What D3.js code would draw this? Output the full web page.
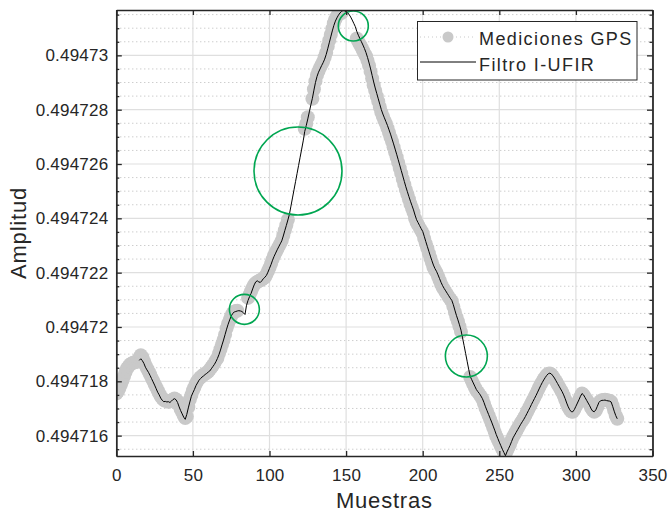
<!DOCTYPE html>
<html>
<head>
<meta charset="utf-8">
<script src="https://cdn.jsdelivr.net/npm/d3@7"></script>
<style>
  body { margin: 0; background: #fff; }
  svg { display: block; }
  text { font-family: "Liberation Sans", Arial, Helvetica, sans-serif; fill: #262626; }
</style>
</head>
<body>
<svg id="chart" width="668" height="515"></svg>
<script>
// GPS amplitude measurements, one per sample starting at sample gpsStart (null = no fix)
const gpsStart = 0;
const gpsValues = [
  0.49471755,0.49471762,0.49471774,0.49471788,0.49471802,0.49471818,0.49471834,0.49471847,0.49471855,0.49471862,
  0.49471866,0.49471868,0.49471870,0.49471871,0.49471876,0.49471886,0.49471896,0.49471888,0.49471874,0.49471860,
  0.49471848,0.49471837,0.49471826,0.49471813,0.49471802,0.49471790,0.49471779,0.49471767,0.49471755,0.49471745,
  0.49471737,0.49471731,0.49471728,0.49471727,0.49471725,0.49471726,0.49471729,0.49471733,0.49471737,0.49471733,
  0.49471726,0.49471712,0.49471698,0.49471687,0.49471674,0.49471665,0.49471670,0.49471705,0.49471733,0.49471750,
  0.49471766,0.49471778,0.49471792,0.49471802,0.49471809,0.49471815,0.49471820,0.49471824,0.49471828,0.49471831,
  0.49471836,0.49471843,0.49471851,0.49471858,0.49471867,0.49471877,0.49471886,0.49471902,0.49471918,0.49471935,
  0.49471952,0.49471972,0.49471995,0.49472012,0.49472026,0.49472040,0.49472051,0.49472056,0.49472059,0.49472060,
  null,null,null,null,null,null,0.49472107,0.49472119,0.49472132,0.49472145,
  0.49472156,0.49472162,0.49472166,0.49472169,0.49472172,0.49472175,0.49472179,0.49472183,0.49472193,0.49472206,
  0.49472218,0.49472233,0.49472249,0.49472263,0.49472274,0.49472285,0.49472296,0.49472307,0.49472318,0.49472337,
  0.49472356,0.49472375,0.49472395,null,null,null,null,null,null,null,
  null,null,null,0.49472730,0.49472748,0.49472772,null,null,0.49472840,0.49472875,
  0.49472905,0.49472928,0.49472942,0.49472955,0.49472966,0.49472977,0.49472993,0.49473010,0.49473033,0.49473055,
  0.49473076,0.49473098,0.49473118,0.49473133,0.49473144,0.49473152,0.49473158,0.49473156,null,null,
  null,null,null,null,null,null,null,0.49473062,0.49473050,0.49473040,
  0.49473030,0.49473018,0.49473007,0.49472997,0.49472980,0.49472962,0.49472940,0.49472915,0.49472890,0.49472870,
  0.49472850,0.49472830,0.49472810,0.49472790,0.49472775,0.49472760,0.49472748,0.49472732,0.49472715,0.49472698,
  0.49472682,0.49472662,0.49472643,0.49472625,0.49472605,0.49472585,0.49472565,0.49472545,0.49472525,0.49472505,
  0.49472488,0.49472470,0.49472453,0.49472438,0.49472422,0.49472400,0.49472385,0.49472375,0.49472365,0.49472355,
  0.49472345,0.49472325,0.49472307,0.49472290,0.49472272,0.49472254,0.49472237,0.49472220,0.49472210,0.49472200,
  0.49472186,0.49472172,0.49472158,0.49472146,0.49472137,0.49472128,0.49472119,0.49472110,0.49472102,0.49472095,
  0.49472075,0.49472055,0.49472036,0.49472020,0.49472002,0.49471982,null,null,null,null,
  null,0.49471816,0.49471802,0.49471790,0.49471778,0.49471767,0.49471760,0.49471752,0.49471744,0.49471734,
  0.49471718,0.49471702,0.49471688,0.49471674,0.49471660,0.49471645,0.49471630,0.49471614,0.49471598,0.49471586,
  0.49471574,0.49471562,0.49471550,0.49471540,0.49471532,0.49471544,0.49471556,0.49471568,0.49471584,0.49471596,
  0.49471606,0.49471616,0.49471626,0.49471637,0.49471647,0.49471655,0.49471664,0.49471674,0.49471686,0.49471697,
  0.49471708,0.49471720,0.49471731,0.49471742,0.49471753,0.49471765,0.49471777,0.49471788,0.49471798,0.49471808,
  0.49471816,0.49471823,0.49471828,0.49471829,0.49471825,0.49471818,0.49471809,0.49471800,0.49471790,0.49471780,
  0.49471770,0.49471760,0.49471748,0.49471733,0.49471718,0.49471705,0.49471695,0.49471689,0.49471688,0.49471696,
  0.49471708,0.49471719,0.49471731,0.49471744,0.49471755,0.49471750,0.49471741,0.49471732,0.49471724,0.49471714,
  0.49471702,0.49471693,0.49471688,0.49471692,0.49471705,0.49471720,0.49471727,0.49471730,0.49471731,0.49471732,
  0.49471730,0.49471729,0.49471728,0.49471725,0.49471710,0.49471692,0.49471674,0.49471662
];

// I-UFIR filter output, one per sample starting at sample filterStart
const filterStart = 15;
const filterValues = [
  0.49471877,0.49471883,0.49471876,0.49471866,0.49471852,
  0.49471842,0.49471833,0.49471822,0.49471810,0.49471798,0.49471786,0.49471773,0.49471760,0.49471750,0.49471738,
  0.49471730,0.49471725,0.49471726,0.49471724,0.49471725,0.49471722,0.49471727,0.49471733,0.49471736,0.49471732,
  0.49471722,0.49471706,0.49471692,0.49471680,0.49471668,0.49471660,0.49471678,0.49471702,0.49471724,0.49471745,
  0.49471758,0.49471770,0.49471784,0.49471794,0.49471804,0.49471810,0.49471816,0.49471820,0.49471825,0.49471829,
  0.49471834,0.49471838,0.49471846,0.49471854,0.49471862,0.49471872,0.49471884,0.49471898,0.49471915,0.49471934,
  0.49471952,0.49471972,0.49471992,0.49472010,0.49472026,0.49472040,0.49472050,0.49472055,0.49472057,0.49472059,
  0.49472060,0.49472059,0.49472057,0.49472052,0.49472046,0.49472080,0.49472098,0.49472112,0.49472124,0.49472140,
  0.49472155,0.49472166,0.49472170,0.49472166,0.49472164,0.49472170,0.49472178,0.49472183,0.49472190,0.49472202,
  0.49472216,0.49472230,0.49472246,0.49472260,0.49472272,0.49472284,0.49472295,0.49472306,0.49472317,0.49472335,
  0.49472355,0.49472374,0.49472394,0.49472415,0.49472445,0.49472475,0.49472505,0.49472535,0.49472565,0.49472595,
  0.49472625,0.49472655,0.49472685,0.49472720,0.49472742,0.49472766,0.49472792,0.49472818,0.49472842,0.49472872,
  0.49472900,0.49472922,0.49472938,0.49472950,0.49472962,0.49472973,0.49472986,0.49473003,0.49473024,0.49473046,
  0.49473068,0.49473090,0.49473110,0.49473126,0.49473138,0.49473148,0.49473156,0.49473162,0.49473165,0.49473164,
  0.49473161,0.49473157,0.49473150,0.49473141,0.49473130,0.49473118,0.49473106,0.49473088,0.49473074,0.49473062,
  0.49473050,0.49473038,0.49473025,0.49473010,0.49472992,0.49472972,0.49472950,0.49472926,0.49472902,0.49472880,
  0.49472860,0.49472840,0.49472820,0.49472800,0.49472784,0.49472770,0.49472756,0.49472742,0.49472726,0.49472710,
  0.49472692,0.49472674,0.49472655,0.49472636,0.49472616,0.49472596,0.49472576,0.49472556,0.49472536,0.49472516,
  0.49472498,0.49472480,0.49472463,0.49472447,0.49472431,0.49472412,0.49472395,0.49472384,0.49472373,0.49472362,
  0.49472352,0.49472334,0.49472315,0.49472297,0.49472279,0.49472261,0.49472244,0.49472228,0.49472215,0.49472205,
  0.49472192,0.49472178,0.49472164,0.49472152,0.49472142,0.49472133,0.49472124,0.49472115,0.49472106,0.49472098,
  0.49472082,0.49472062,0.49472043,0.49472026,0.49472008,0.49471988,0.49471960,0.49471932,0.49471903,0.49471874,
  0.49471845,0.49471818,0.49471806,0.49471794,0.49471782,0.49471770,0.49471762,0.49471755,0.49471746,0.49471736,
  0.49471722,0.49471706,0.49471692,0.49471678,0.49471664,0.49471650,0.49471635,0.49471620,0.49471604,0.49471590,
  0.49471576,0.49471563,0.49471550,0.49471538,0.49471526,0.49471540,0.49471552,0.49471564,0.49471578,0.49471592,
  0.49471602,0.49471612,0.49471622,0.49471632,0.49471642,0.49471651,0.49471660,0.49471670,0.49471681,0.49471692,
  0.49471703,0.49471715,0.49471726,0.49471737,0.49471748,0.49471760,0.49471772,0.49471784,0.49471795,0.49471805,
  0.49471814,0.49471822,0.49471828,0.49471830,0.49471827,0.49471820,0.49471812,0.49471802,0.49471792,0.49471782,
  0.49471772,0.49471762,0.49471750,0.49471736,0.49471720,0.49471706,0.49471695,0.49471688,0.49471688,0.49471696,
  0.49471708,0.49471720,0.49471732,0.49471745,0.49471755,0.49471750,0.49471740,0.49471730,0.49471720,0.49471710,
  0.49471698,0.49471690,0.49471688,0.49471695,0.49471708,0.49471722,0.49471728,0.49471730,0.49471730,0.49471731,
  0.49471729,0.49471728,0.49471727,0.49471724,0.49471708,0.49471690,0.49471674,0.49471662
];

const seriesNames = ["Mediciones GPS", "Filtro I-UFIR"];
const xLabel = "Muestras";
const yLabel = "Amplitud";

const xDomain = [0, 350];
const yDomain = [0.49471525, 0.49473167];
const xTicks = [0, 50, 100, 150, 200, 250, 300, 350];
const xTickLabels = ["0", "50", "100", "150", "200", "250", "300", "350"];
const yTicks = [0.494716, 0.494718, 0.49472, 0.494722, 0.494724, 0.494726, 0.494728, 0.49473];
const yTickLabels = ["0.494716", "0.494718", "0.49472", "0.494722", "0.494724", "0.494726", "0.494728", "0.49473"];
const yMinorTicks = [0.4947155, 0.4947165, 0.494717, 0.4947175, 0.4947185, 0.494719, 0.4947195,
                     0.4947205, 0.494721, 0.4947215, 0.4947225, 0.494723, 0.4947235, 0.4947245,
                     0.494725, 0.4947255, 0.4947265, 0.494727, 0.4947275, 0.4947285, 0.494729,
                     0.4947295, 0.4947305, 0.494731, 0.4947315];

// Highlighted regions: [sample, amplitude] at each ring's centre
const ringCenters = [[154.7, 0.49473108], [118.6, 0.49472574], [83.6, 0.49472065], [228.5, 0.49471893]];

// ---- drawing ----
const plot = { left: 116.3, right: 652.5, top: 10, bottom: 456 };
const ringRadius = [15, 44, 15, 21];
const axisColor = "#262626";

const svg = d3.select("#chart");
const x = d3.scaleLinear().domain(xDomain).range([plot.left, plot.right]);
const y = d3.scaleLinear().domain(yDomain).range([plot.bottom, plot.top]);

svg.append("defs").append("clipPath").attr("id", "plotClip")
  .append("rect")
  .attr("x", plot.left).attr("y", plot.top)
  .attr("width", plot.right - plot.left).attr("height", plot.bottom - plot.top);

// grid
const grid = svg.append("g");
grid.selectAll(".minor").data(yMinorTicks).join("line")
  .attr("x1", plot.left).attr("x2", plot.right)
  .attr("y1", d => y(d)).attr("y2", d => y(d))
  .attr("stroke", "#b8b8b8").attr("stroke-width", 1).attr("stroke-dasharray", "1,3");
grid.selectAll(".hmaj").data(yTicks).join("line")
  .attr("x1", plot.left).attr("x2", plot.right)
  .attr("y1", d => y(d)).attr("y2", d => y(d))
  .attr("stroke", "#dfdfdf").attr("stroke-width", 1.2);
grid.selectAll(".vmaj").data(xTicks).join("line")
  .attr("y1", plot.top).attr("y2", plot.bottom)
  .attr("x1", d => x(d)).attr("x2", d => x(d))
  .attr("stroke", "#dfdfdf").attr("stroke-width", 1.2);

const dataLayer = svg.append("g").attr("clip-path", "url(#plotClip)");

const gpsPoints = gpsValues.map((v, i) => ({ s: gpsStart + i, v }));
const filterPoints = filterValues.map((v, i) => ({ s: filterStart + i, v }));

const gpsColor = "#c9c9c9";

dataLayer.append("path")
  .datum(gpsPoints)
  .attr("fill", "none").attr("stroke", gpsColor).attr("stroke-width", 1)
  .attr("stroke-dasharray", "1,3")
  .attr("d", d3.line().defined(d => d.v != null).x(d => x(d.s)).y(d => y(d.v)));

dataLayer.selectAll(".gps").data(gpsPoints.filter(d => d.v != null)).join("circle")
  .attr("cx", d => x(d.s)).attr("cy", d => y(d.v)).attr("r", 7)
  .attr("fill", gpsColor);

dataLayer.append("path")
  .datum(filterPoints)
  .attr("fill", "none").attr("stroke", "#000").attr("stroke-width", 1)
  .attr("stroke-linejoin", "round")
  .attr("d", d3.line().x(d => x(d.s)).y(d => y(d.v)));

// highlight rings
svg.append("g").selectAll("circle").data(ringCenters).join("circle")
  .attr("cx", d => x(d[0])).attr("cy", d => y(d[1]))
  .attr("r", (d, i) => ringRadius[i])
  .attr("fill", "none").attr("stroke", "#00a651").attr("stroke-width", 1.6);

// axes
const tickFont = g => g.selectAll("text")
  .attr("font-size", 17).attr("letter-spacing", "0.2px")
  .attr("fill", axisColor).style("font-family", '"Liberation Sans", Arial, sans-serif');
const styleAxis = g => {
  g.select(".domain").attr("stroke", axisColor).attr("stroke-width", 1.3);
  g.selectAll(".tick line").attr("stroke", axisColor).attr("stroke-width", 1.3);
};

svg.append("g").attr("transform", `translate(0,${plot.bottom})`)
  .call(d3.axisBottom(x).tickValues(xTicks).tickSizeInner(-5).tickSizeOuter(0).tickPadding(10)
    .tickFormat((d, i) => xTickLabels[i]))
  .call(styleAxis).call(tickFont)
  .call(g => g.selectAll("text").attr("dy", "0.9em"));

svg.append("g").attr("transform", `translate(0,${plot.top})`)
  .call(d3.axisTop(x).tickValues(xTicks).tickSizeInner(-5).tickSizeOuter(0).tickFormat(""))
  .call(styleAxis);

svg.append("g").attr("transform", `translate(${plot.left},0)`)
  .call(d3.axisLeft(y).tickValues(yMinorTicks).tickSizeInner(-3).tickSizeOuter(0).tickFormat(""))
  .call(styleAxis);
svg.append("g").attr("transform", `translate(${plot.left},0)`)
  .call(d3.axisLeft(y).tickValues(yTicks).tickSizeInner(-5.5).tickSizeOuter(0).tickPadding(8)
    .tickFormat((d, i) => yTickLabels[i]))
  .call(styleAxis).call(tickFont);

svg.append("g").attr("transform", `translate(${plot.right},0)`)
  .call(d3.axisRight(y).tickValues(yMinorTicks).tickSizeInner(-3).tickSizeOuter(0).tickFormat(""))
  .call(styleAxis);
svg.append("g").attr("transform", `translate(${plot.right},0)`)
  .call(d3.axisRight(y).tickValues(yTicks).tickSizeInner(-5.5).tickSizeOuter(0).tickFormat(""))
  .call(styleAxis);

// axis titles
svg.append("text")
  .attr("x", (plot.left + plot.right) / 2).attr("y", 508)
  .attr("text-anchor", "middle").attr("font-size", 22).attr("letter-spacing", "0.8px")
  .text(xLabel);
svg.append("text")
  .attr("transform", `translate(26,${(plot.top + plot.bottom) / 2}) rotate(-90)`)
  .attr("text-anchor", "middle").attr("font-size", 22).attr("letter-spacing", "0.8px")
  .text(yLabel);

// legend
const legend = svg.append("g");
legend.append("rect")
  .attr("x", 417.5).attr("y", 21.5).attr("width", 219.5).attr("height", 58.5)
  .attr("fill", "#fff").attr("stroke", axisColor).attr("stroke-width", 1);
legend.append("line")
  .attr("x1", 420).attr("x2", 476).attr("y1", 37).attr("y2", 37)
  .attr("stroke", gpsColor).attr("stroke-dasharray", "1,3");
legend.append("circle").attr("cx", 448).attr("cy", 37).attr("r", 5.5).attr("fill", gpsColor);
legend.append("line")
  .attr("x1", 420).attr("x2", 476).attr("y1", 62).attr("y2", 62)
  .attr("stroke", "#000").attr("stroke-width", 1);
legend.selectAll(".lbl").data(seriesNames).join("text")
  .attr("x", 479).attr("y", (d, i) => 45 + i * 25.5)
  .attr("font-size", 18).attr("letter-spacing", "1.4px").attr("fill", "#000")
  .text(d => d);
</script>
</body>
</html>
